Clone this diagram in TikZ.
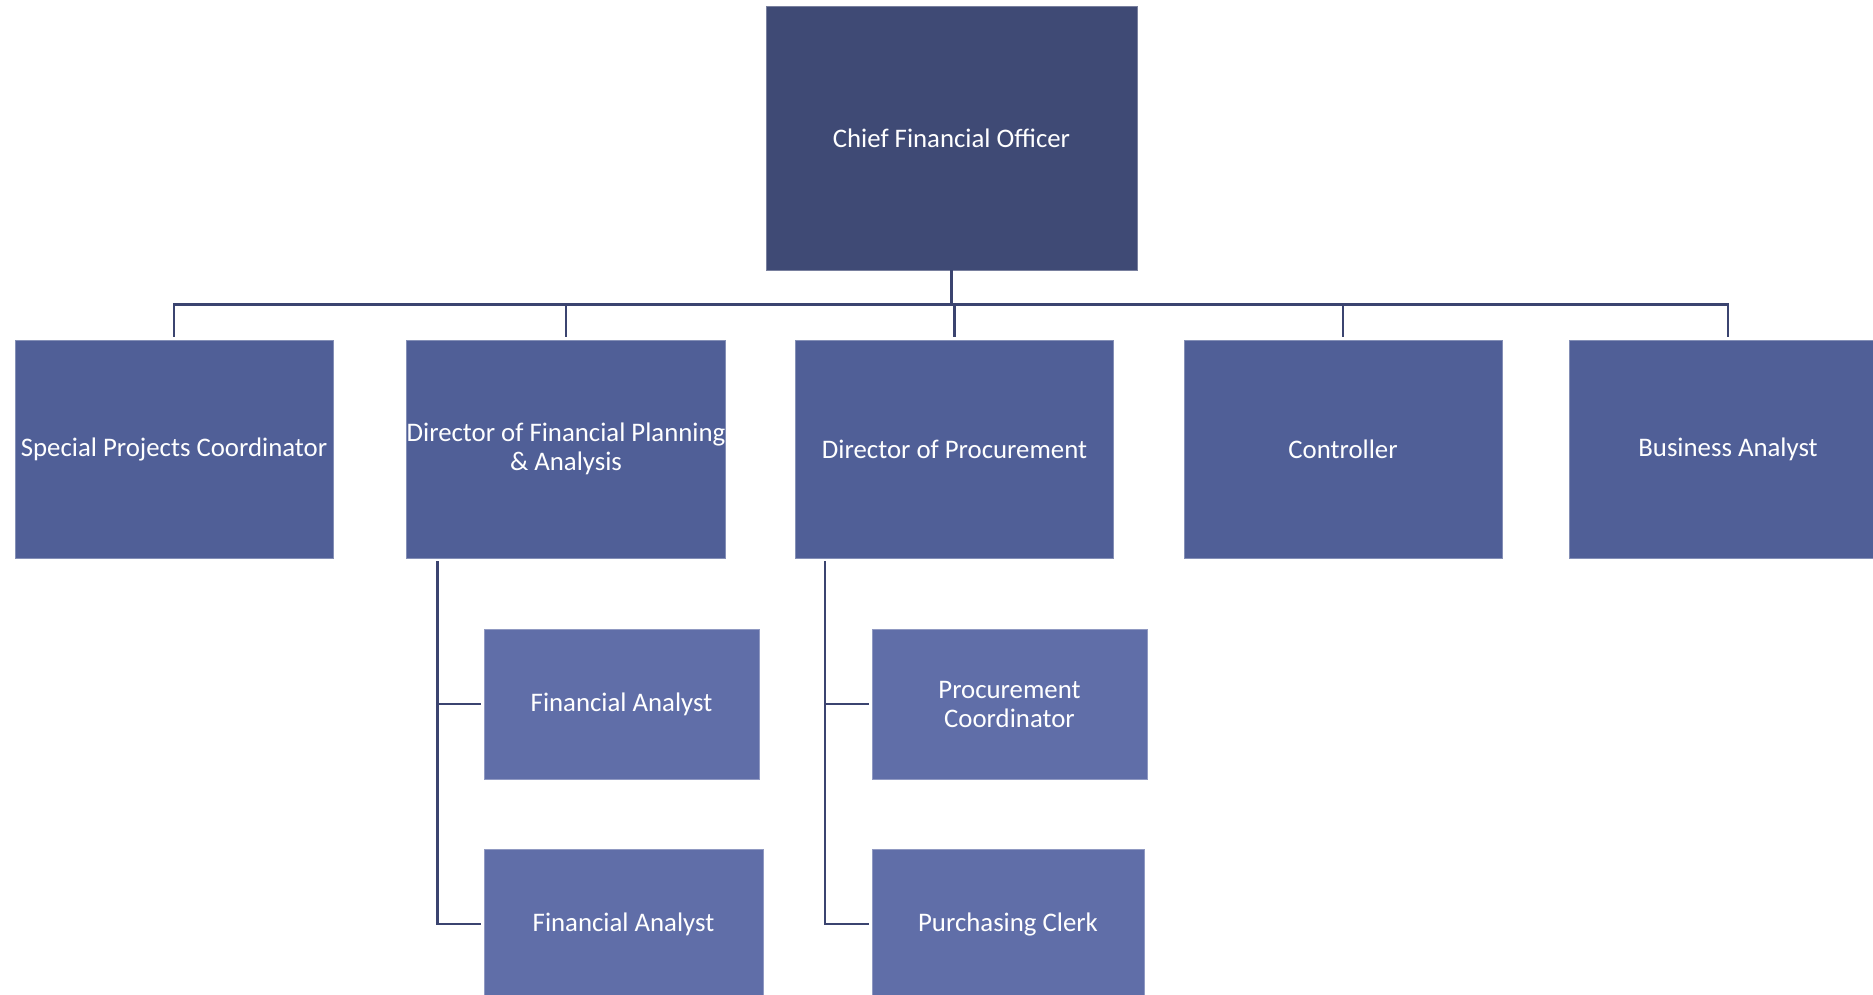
\documentclass[tikz,border=0pt]{standalone}
\usepackage{fontspec}
\setmainfont{Carlito}
\usetikzlibrary{calc}

\definecolor{topblue}{HTML}{3F4A75}
\definecolor{midblue}{HTML}{505F97}
\definecolor{lowblue}{HTML}{606EA8}
\definecolor{linkblue}{HTML}{3B4470}

\tikzset{
  pos box/.style={rectangle, inner sep=0pt, text=white, align=center,
    font=\fontsize{26.8}{29}\selectfont, line width=0.8pt},
  cfo box/.style={pos box, fill=topblue, draw=topblue!70!white, minimum width=371pt, minimum height=264pt},
  head box/.style={pos box, fill=midblue, draw=midblue!70!white, minimum width=318pt, minimum height=218pt},
  staff box/.style={pos box, fill=lowblue, draw=lowblue!70!white, minimum height=150pt},
  conn/.style={draw=linkblue, line width=2.6pt}
}

\begin{document}
\begin{tikzpicture}[x=1pt, y=1pt]
      \useasboundingbox (0,0) rectangle (1873,-994);

      \node[cfo box] (cfo) at (951.5,-138) {Chief Financial Officer};

      \node[head box] (spc) at (174,-449) {Special Projects Coordinator};
      \node[head box] (dfpa) at (566,-449) {Director of Financial Planning\\ \& Analysis};
      \node[head box] (dproc) at (954.5,-449) {Director of Procurement};
      \node[head box] (ctrl) at (1343,-449) {Controller};
      \node[head box] (ba) at (1728,-449) {Business Analyst};

      \node[staff box, minimum width=275pt] (fa1) at (621.5,-704) {Financial Analyst};
      \node[staff box, minimum width=279pt] (fa2) at (623.5,-924) {Financial Analyst};
      \node[staff box, minimum width=275pt] (pc) at (1009.5,-704) {Procurement\\ Coordinator};
      \node[staff box, minimum width=272pt] (pclerk) at (1008,-924) {Purchasing Clerk};

      \draw[conn] (cfo.south) -- ++(0,-35);
      \draw[conn] ([yshift=3pt]spc.north) -- ++(0,32) -| ([yshift=3pt]ba.north);
      \foreach \n in {dfpa,dproc,ctrl}
        \draw[conn] ([yshift=3pt]\n.north) -- ++(0,32);

      \draw[conn] ([xshift=31pt,yshift=-3pt]dfpa.south west) |- ([xshift=-3pt]fa1.west);
      \draw[conn] ([xshift=31pt,yshift=-3pt]dfpa.south west) |- ([xshift=-3pt]fa2.west);
      \draw[conn] ([xshift=30pt,yshift=-3pt]dproc.south west) |- ([xshift=-3pt]pc.west);
      \draw[conn] ([xshift=30pt,yshift=-3pt]dproc.south west) |- ([xshift=-3pt]pclerk.west);
\end{tikzpicture}
\end{document}
